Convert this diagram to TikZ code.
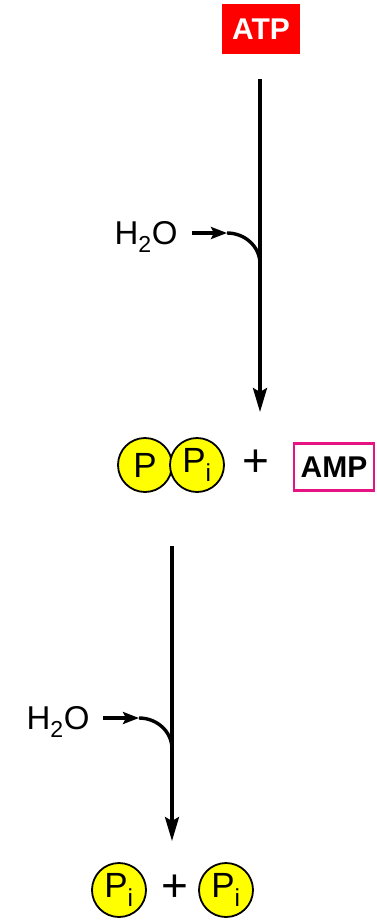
\documentclass[tikz,border=0pt]{standalone}
\usepackage{fontspec}
\setmainfont{Liberation Sans}
\usetikzlibrary{arrows.meta}
\definecolor{atpred}{RGB}{255,0,0}
\definecolor{ampmagenta}{RGB}{230,20,130}
\definecolor{pyellow}{RGB}{255,255,0}
\tikzset{
  x=1pt, y=1pt,
  every node/.style={font=\fontsize{33}{36}\selectfont, inner sep=0pt},
  atpbox/.style={fill=atpred, text=white, font=\fontsize{30}{32}\selectfont\bfseries, minimum width=78pt, minimum height=50pt},
  ampbox/.style={draw=ampmagenta, line width=2.2pt, font=\fontsize{30}{32}\selectfont\bfseries, minimum width=80pt, minimum height=47pt},
  phos/.style={circle, draw=black, line width=1.8pt, fill=pyellow, minimum size=54pt, font=\fontsize{35}{38}\selectfont},
  plussign/.style={font=\fontsize{46}{48}\selectfont},
  mainarrow/.style={line width=3.4pt, -{Stealth[length=24pt, width=14pt, inset=4pt]}},
  waterarrow/.style={line width=3.4pt, -{Stealth[length=16pt, width=12pt, inset=3pt]}},
  waterbend/.style={line width=3.4pt, line cap=butt}
}
\begin{document}
\begin{tikzpicture}
  \useasboundingbox (0,0) rectangle (376,-920);

  % first step: ATP -> PPi + AMP
  \node[atpbox] (atp) at (261,-29) {ATP};
  \coordinate (s1top) at (260,-79);
  \coordinate (s1end) at (260,-412);
  \draw[mainarrow] (s1top) -- (s1end);
  \node (w1) at (146,-237) {H\textsubscript{2}O};
  \coordinate (w1a) at (192,-233);
  \coordinate (w1b) at (227,-233);
  \coordinate (w1c) at (260,-264);
  \draw[waterarrow] (w1a) -- (w1b);
  \draw[waterbend] (w1b) to[out=0, in=90] (w1c);

  \node[phos] (p) at (145,-465) {P};
  \node[phos] (pi) at (197,-465) {P\textsubscript{i}};
  \node[plussign] (plus1) at (256,-463) {+};
  \node[ampbox] (amp) at (334,-467) {AMP};

  % second step: PPi -> 2 Pi
  \coordinate (s2top) at (172,-546);
  \coordinate (s2end) at (172,-841);
  \draw[mainarrow] (s2top) -- (s2end);
  \node (w2) at (58,-722) {H\textsubscript{2}O};
  \coordinate (w2a) at (103,-718);
  \coordinate (w2b) at (139,-718);
  \coordinate (w2c) at (172,-749);
  \draw[waterarrow] (w2a) -- (w2b);
  \draw[waterbend] (w2b) to[out=0, in=90] (w2c);

  \node[phos] (pi1) at (119,-890) {P\textsubscript{i}};
  \node[plussign] (plus2) at (175,-888) {+};
  \node[phos] (pi2) at (226,-890) {P\textsubscript{i}};
\end{tikzpicture}
\end{document}
